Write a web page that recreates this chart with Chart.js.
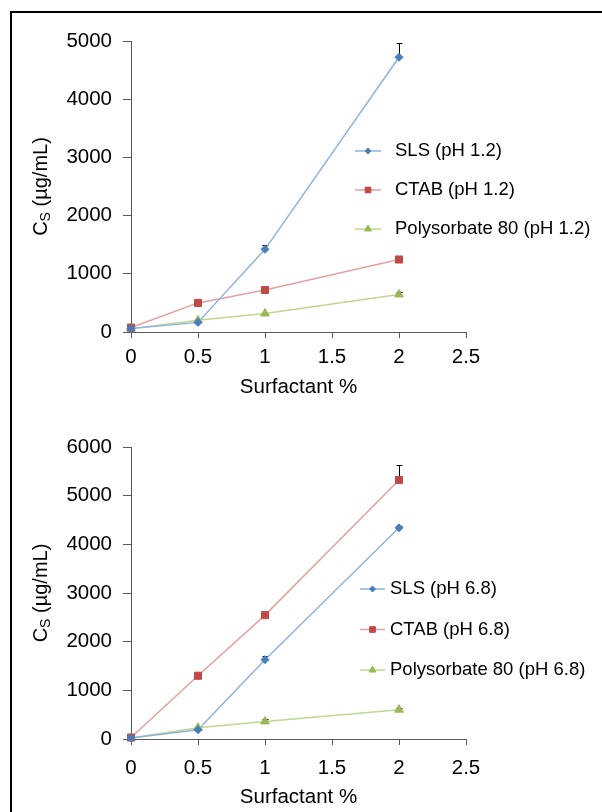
<!DOCTYPE html>
<html>
<head>
<meta charset="utf-8">
<title>Surfactant solubility</title>
<script src="https://cdn.jsdelivr.net/npm/chart.js@4.4.1/dist/chart.umd.min.js"></script>
<style>
	body { margin: 0; background: #fff; }
	#page { position: relative; width: 602px; height: 812px; overflow: hidden; }
	#frame { position: absolute; left: 10px; top: 11px; width: 600px; height: 810px; border-top: 2px solid #000; border-left: 2px solid #000; }
	canvas { position: absolute; left: 0; }
	#chartTop { top: 0; }
	#chartBottom { top: 406px; }
</style>
</head>
<body>
<div id="page">
	<div id="frame"></div>
	<canvas id="chartTop" width="602" height="406"></canvas>
	<canvas id="chartBottom" width="602" height="406"></canvas>
</div>
<script>
// Surfactant concentration (%) for every series
const surfactantPct = [0, 0.5, 1, 2];

// Axis ticks
const xTickValues = [0, 0.5, 1, 1.5, 2, 2.5];
const xTickLabels = ["0", "0.5", "1", "1.5", "2", "2.5"];
const yTicksTop = [0, 1000, 2000, 3000, 4000, 5000];
const yTicksBottom = [0, 1000, 2000, 3000, 4000, 5000, 6000];

// pH 1.2 - solubility (ug/mL) and error (+SD)
const slsPh12 = [62, 165, 1420, 4720];
const slsPh12Err = [0, 10, 70, 240];
const ctabPh12 = [76, 500, 722, 1246];
const ctabPh12Err = [0, 10, 15, 20];
const polyPh12 = [58, 200, 318, 645];
const polyPh12Err = [0, 15, 15, 40];

// pH 6.8 - solubility (ug/mL) and error (+SD)
const slsPh68 = [20, 190, 1630, 4340];
const slsPh68Err = [0, 10, 80, 40];
const ctabPh68 = [30, 1300, 2545, 5320];
const ctabPh68Err = [0, 20, 20, 310];
const polyPh68 = [20, 232, 362, 602];
const polyPh68Err = [0, 15, 45, 30];

const FONT = "'Liberation Sans', Arial, sans-serif";
const AXIS_COLOR = "#595959";

const slsStyle = {
	borderColor: "#8DB3E2",
	pointBackgroundColor: "#4A7EBB",
	pointBorderColor: "#4A7EBB",
	pointStyle: "rectRot",
	pointRadius: 4,
};
const ctabStyle = {
	borderColor: "#E6A09E",
	pointBackgroundColor: "#BE4B48",
	pointBorderColor: "#BE4B48",
	pointStyle: "rect",
	pointRadius: 5,
};
const polyStyle = {
	borderColor: "#BFD78F",
	pointBackgroundColor: "#98B954",
	pointBorderColor: "#98B954",
	pointStyle: "triangle",
	pointRadius: 5,
};

function series(label, values, errors, style) {
	return Object.assign(
		{
			label: label,
			data: values.map((v, i) => ({ x: surfactantPct[i], y: v })),
			errors: errors,
			borderWidth: 1.5,
			pointBorderWidth: 1,
			tension: 0,
			clip: false,
		},
		style
	);
}

// Plus-side error bars, drawn under the markers
const errorBarPlugin = {
	id: "errorBars",
	beforeDatasetsDraw(chart) {
		const { ctx, scales } = chart;
		ctx.save();
		ctx.strokeStyle = "#000";
		ctx.lineWidth = 1;
		chart.data.datasets.forEach((ds) => {
			ds.data.forEach((pt, i) => {
				const err = ds.errors[i];
				if (!err) return;
				const px = Math.round(scales.x.getPixelForValue(pt.x)) + 0.5;
				const y0 = scales.y.getPixelForValue(pt.y);
				const y1 = Math.round(scales.y.getPixelForValue(pt.y + err)) + 0.5;
				ctx.beginPath();
				ctx.moveTo(px, y0);
				ctx.lineTo(px, y1);
				ctx.moveTo(px - 3, y1);
				ctx.lineTo(px + 3, y1);
				ctx.stroke();
			});
		});
		ctx.restore();
	},
};

// Legend sitting over the plot, to the right
const insetLegendPlugin = {
	id: "insetLegend",
	afterDraw(chart, args, opts) {
		const ctx = chart.ctx;
		ctx.save();
		ctx.font = `${opts.fontSize}px ${FONT}`;
		ctx.textBaseline = "middle";
		ctx.textAlign = "left";
		chart.data.datasets.forEach((ds, i) => {
			const y = opts.y + i * opts.spacing;
			ctx.strokeStyle = ds.borderColor;
			ctx.lineWidth = ds.borderWidth;
			ctx.beginPath();
			ctx.moveTo(opts.x, y);
			ctx.lineTo(opts.x + opts.lineLen, y);
			ctx.stroke();
			ctx.fillStyle = ds.pointBackgroundColor;
			ctx.strokeStyle = ds.pointBorderColor;
			ctx.lineWidth = 1;
			if (Chart.helpers && Chart.helpers.drawPoint) {
				Chart.helpers.drawPoint(
					ctx,
					{ pointStyle: ds.pointStyle, rotation: 0, radius: ds.pointRadius - 1, borderWidth: 1 },
					opts.x + opts.lineLen / 2,
					y
				);
			}
			ctx.fillStyle = "#000";
			ctx.fillText(ds.label, opts.x + opts.lineLen + opts.gap, y);
		});
		ctx.restore();
	},
};

// Rotated y title with subscript S
const yTitlePlugin = {
	id: "yTitle",
	afterDraw(chart, args, opts) {
		const { ctx, chartArea } = chart;
		const cy = (chartArea.top + chartArea.bottom) / 2;
		const big = `${opts.size}px ${FONT}`;
		const small = `${Math.round(opts.size * 0.68)}px ${FONT}`;
		ctx.save();
		ctx.translate(opts.x, cy);
		ctx.rotate(-Math.PI / 2);
		ctx.fillStyle = "#000";
		ctx.textBaseline = "middle";
		ctx.textAlign = "left";
		ctx.font = big;
		const wC = ctx.measureText("C").width;
		const wRest = ctx.measureText(" (µg/mL)").width;
		ctx.font = small;
		const wS = ctx.measureText("S").width;
		const left = -(wC + wS + wRest) / 2;
		ctx.font = big;
		ctx.fillText("C", left, 0);
		ctx.font = small;
		ctx.fillText("S", left + wC, opts.size * 0.28);
		ctx.font = big;
		ctx.fillText(" (µg/mL)", left + wC + wS, 0);
		ctx.restore();
	},
};

function makeChart(canvasId, datasets, yTicks, layout) {
	const ctx = document.getElementById(canvasId).getContext("2d");
	return new Chart(ctx, {
		type: "line",
		data: { datasets: datasets },
		plugins: [errorBarPlugin, insetLegendPlugin, yTitlePlugin],
		options: {
			responsive: false,
			animation: false,
			layout: { padding: { top: layout.top, left: 0, right: 136, bottom: 0 } },
			scales: {
				x: {
					type: "linear",
					min: 0,
					max: 2.5,
					afterBuildTicks: (s) => {
						s.ticks = xTickValues.map((v) => ({ value: v }));
					},
					afterFit: (s) => {
						s.height = layout.xHeight;
					},
					ticks: {
						color: "#000",
						font: { family: FONT, size: 20.5 },
						padding: layout.xLabelPad,
						maxRotation: 0,
						callback: (v, i) => xTickLabels[i],
					},
					grid: { drawOnChartArea: false, drawTicks: true, tickLength: 6, color: AXIS_COLOR, tickColor: AXIS_COLOR },
					border: { color: AXIS_COLOR, width: 1 },
					title: {
						display: true,
						text: "Surfactant %",
						color: "#000",
						font: { family: FONT, size: 20.5 },
						padding: { top: 0, bottom: layout.xTitlePad },
					},
				},
				y: {
					min: 0,
					max: yTicks[yTicks.length - 1],
					afterBuildTicks: (s) => {
						s.ticks = yTicks.map((v) => ({ value: v }));
					},
					afterFit: (s) => {
						s.width = 131;
					},
					ticks: {
						color: "#000",
						font: { family: FONT, size: 20.5 },
						padding: 11,
						callback: (v) => String(v),
					},
					grid: { drawOnChartArea: false, drawTicks: true, tickLength: 8, color: AXIS_COLOR, tickColor: AXIS_COLOR },
					border: { color: AXIS_COLOR, width: 1 },
				},
			},
			plugins: {
				legend: { display: false },
				tooltip: { enabled: false },
				insetLegend: layout.legend,
				yTitle: { x: 41, size: 20 },
			},
		},
	});
}

document.addEventListener("DOMContentLoaded", function () {
	makeChart(
		"chartTop",
		[
			series("SLS (pH 1.2)", slsPh12, slsPh12Err, slsStyle),
			series("CTAB (pH 1.2)", ctabPh12, ctabPh12Err, ctabStyle),
			series("Polysorbate 80 (pH 1.2)", polyPh12, polyPh12Err, polyStyle),
		],
		yTicksTop,
		{
			top: 41,
			xHeight: 74,
			xLabelPad: 7,
			xTitlePad: 6,
			legend: { x: 355, y: 151, spacing: 39, lineLen: 26, gap: 14, fontSize: 18.5 },
		}
	);

	makeChart(
		"chartBottom",
		[
			series("SLS (pH 6.8)", slsPh68, slsPh68Err, slsStyle),
			series("CTAB (pH 6.8)", ctabPh68, ctabPh68Err, ctabStyle),
			series("Polysorbate 80 (pH 6.8)", polyPh68, polyPh68Err, polyStyle),
		],
		yTicksBottom,
		{
			top: 41,
			xHeight: 73,
			xLabelPad: 11,
			xTitlePad: 2,
			legend: { x: 360, y: 183, spacing: 40.5, lineLen: 25, gap: 5, fontSize: 18.5 },
		}
	);
});
</script>
</body>
</html>
